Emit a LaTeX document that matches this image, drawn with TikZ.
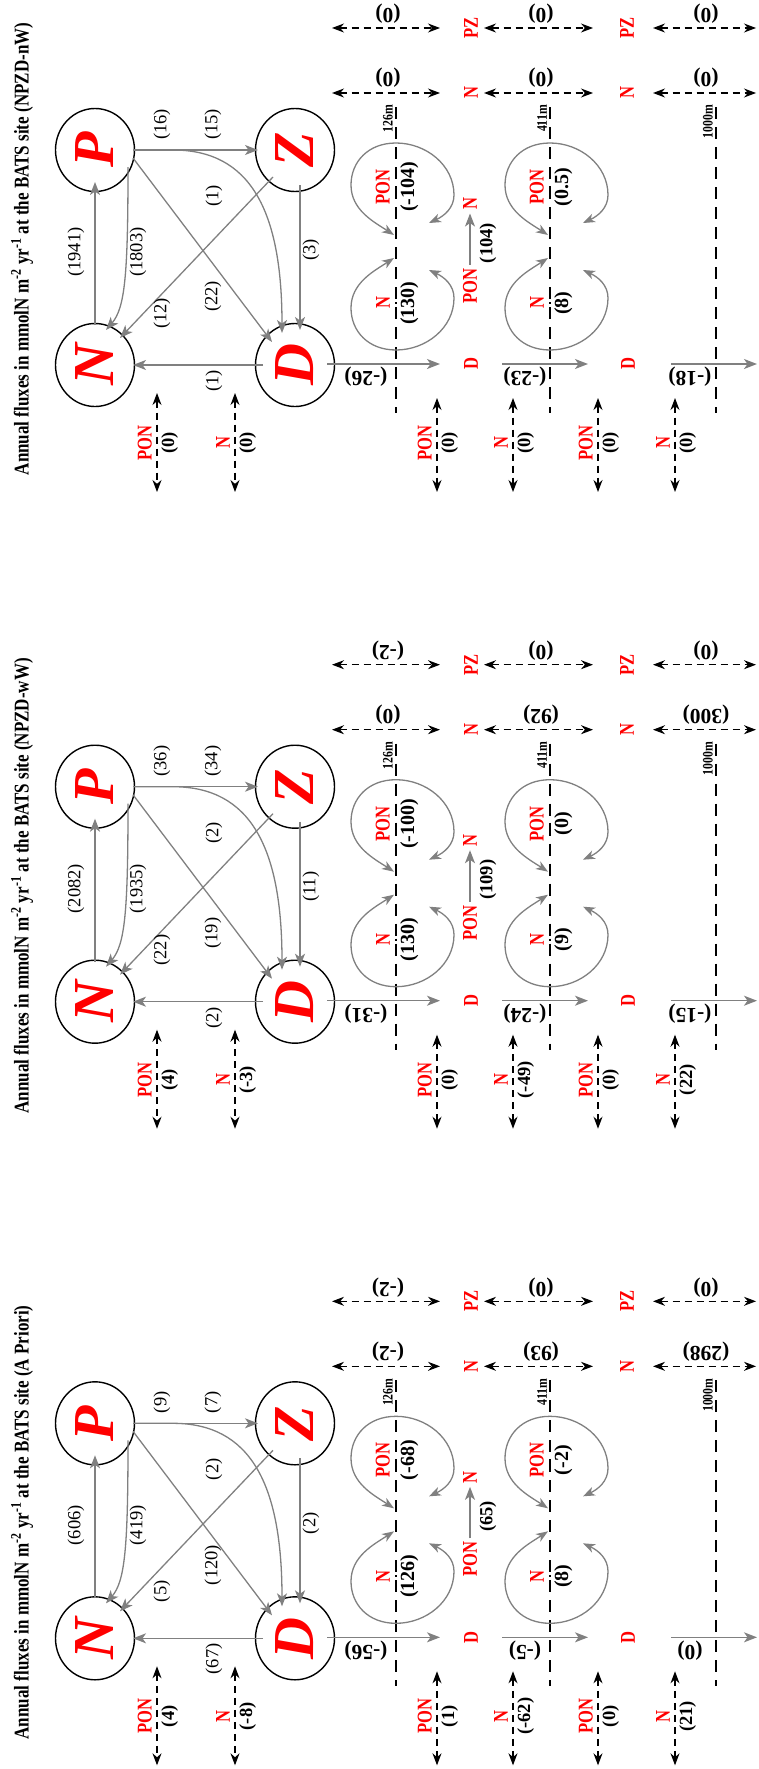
\documentclass[tikz,border=0pt]{standalone}
\usepackage{fontspec}
\setmainfont{Liberation Serif}
\newfontfamily\titlefont[FakeStretch=0.81]{Liberation Serif}
\newfontfamily\condfont[FakeStretch=0.79]{Liberation Serif}
\usetikzlibrary{arrows.meta,shapes.geometric,calc}
\tikzset{
  circ/.style={ellipse,draw,line width=1.4pt,minimum width=83pt,minimum height=79pt,inner sep=0pt,rotate=90,text=red,font=\fontsize{58}{60}\selectfont\bfseries\itshape},
  garrow/.style={draw=gray,line width=1.3pt,-{Stealth[length=13pt,width=10pt,inset=3.5pt]}},
  gdarrow/.style={draw=gray,line width=1.3pt,{Stealth[length=12pt,width=9pt,inset=3.5pt]}-{Stealth[length=12pt,width=9pt,inset=3.5pt]}},
  bdarrow/.style={black,line width=1.2pt,dash pattern=on 7pt off 5pt,{Stealth[length=12pt,width=9pt]}-{Stealth[length=12pt,width=9pt]}},
  depthline/.style={line width=1.4pt,dash pattern=on 12pt off 8pt},
  flab/.style={rotate=90,inner sep=0pt,font=\fontsize{18.5}{20}\selectfont},
  vlab/.style={rotate=180,inner sep=0pt,font=\fontsize{21.5}{24}\selectfont\bfseries},
  rlab/.style={rotate=90,inner sep=0pt,text=red,font=\condfont\fontsize{21}{24}\selectfont\bfseries},
  rclab/.style={rotate=90,text=red,font=\condfont\fontsize{21}{24}\selectfont\bfseries},
  rblab/.style={rotate=90,text=red,font=\condfont\fontsize{21}{24}\selectfont\bfseries},
  blab/.style={rotate=90,inner sep=0pt,font=\fontsize{20}{22}\selectfont\bfseries},
  bblab/.style={rotate=90,inner sep=0pt,font=\fontsize{18.5}{20}\selectfont\bfseries},
  dlab/.style={rotate=90,inner sep=0pt,anchor=south east,font=\titlefont\fontsize{14.5}{16}\selectfont\bfseries},
  ttl/.style={rotate=90,anchor=base,inner sep=0pt,font=\titlefont\fontsize{21}{24}\selectfont\bfseries},
  barline/.style={line width=1.3pt},
}
\newdimen\frdim
% fraction-like label on a depth line: x, y, red text, black value
\newcommand\frl[4]{%
  \setbox0=\hbox{\condfont\fontsize{21}{24}\selectfont\bfseries #3}%
  \setbox2=\hbox{\fontsize{20}{22}\selectfont\bfseries #4}%
  \frdim=\wd0 \ifdim\wd2>\frdim \frdim=\wd2 \fi
  \pgfmathsetmacro\hb{\frdim/2+1}%
  \node[rlab,anchor=south] at (#1-6,#2) {#3};
  \node[blab,anchor=north] at (#1+4,#2) {#4};
  \draw[barline] (#1,#2-\hb) -- (#1,#2+\hb);}
% bottom exchange arrow with labels: x, O, top, red, value
\newcommand\bex[5]{%
  \draw[bdarrow] (#1,#2+#3) -- (#1,#2+342);
  \node[rlab,anchor=south] at (#1-5,#2+293) {#4};
  \node[bblab,anchor=north] at (#1+4,#2+293) {#5};}
% recycling arcs around a depth line: L, O
\newcommand\arcs[2]{%
 \draw[gdarrow] (#1+33,#2+73) .. controls (#1+48,#2+66) and (#1+58,#2+58) .. (#1+58,#2+45) .. controls (#1+58,#2+15) and (#1+30,#2-7) .. (#1,#2-7) .. controls (#1-28,#2-7) and (#1-45,#2+12) .. (#1-45,#2+35) .. controls (#1-45,#2+60) and (#1-22,#2+72) .. (#1-2,#2+85);
 \draw[gdarrow] (#1+33,#2+120) .. controls (#1+48,#2+127) and (#1+58,#2+135) .. (#1+58,#2+148) .. controls (#1+58,#2+178) and (#1+30,#2+200) .. (#1,#2+200) .. controls (#1-28,#2+200) and (#1-45,#2+181) .. (#1-45,#2+158) .. controls (#1-45,#2+133) and (#1-22,#2+121) .. (#1-2,#2+108);}
\newcommand\panel[2]{%
 \def\O{#1}%
 \node[ttl] (T#2) at (28.5,\O+99) {Annual fluxes in mmolN m\textsuperscript{-2} yr\textsuperscript{-1} at the BATS site (\Tname)};
 \node[circ] (P#2) at (95,\O) {P};
 \node[circ] (N#2) at (95,\O+215) {N};
 \node[circ] (Z#2) at (295,\O) {Z};
 \node[circ] (D#2) at (295,\O+215) {D};
 \draw[garrow] ($(N#2)+(0,-40)$) -- ($(P#2)+(0,32)$);
 \draw[garrow] ($(P#2)+(33,17)$) .. controls ($(P#2)+(33,125)$) and ($(P#2)+(30,158)$) .. ($(N#2)+(11,-35)$);
 \draw[garrow] ($(P#2)+(38,0)$) -- ($(Z#2)+(-37,0)$);
 \draw[garrow] ($(P#2)+(38,0)$) -- ($(P#2)+(78,0)$) .. controls ($(P#2)+(155,0)$) and ($(D#2)+(-13,-155)$) .. ($(D#2)+(-13,-32)$);
 \draw[garrow] ($(P#2)+(38,8)$) -- ($(D#2)+(-23,-23)$);
 \draw[garrow] ($(Z#2)+(-22,27)$) -- ($(N#2)+(25,-27)$);
 \draw[garrow] ($(Z#2)+(5,35)$) -- ($(D#2)+(5,-35)$);
 \draw[garrow] ($(D#2)+(-32,0)$) -- ($(N#2)+(38,0)$);
 \node[flab] at (76,\O+102) {\lNP};
 \node[flab] at (138,\O+102) {\lPN};
 \node[flab,anchor=west] at (162,\O-10) {\lPZa};
 \node[flab,anchor=west] at (213,\O-10) {\lPZb};
 \node[flab] at (214,\O+46) {\lPDc};
 \node[flab,anchor=west] at (213,\O+162) {\lPD};
 \node[flab,anchor=west] at (162,\O+179) {\lZN};
 \node[flab] at (311,\O+100) {\lZD};
 \node[flab,anchor=east] at (214,\O+220) {\lDN};
 % depth lines
 \draw[depthline] (396,\O-43) -- (396,\O+263);
 \draw[depthline] (550,\O-43) -- (550,\O+263);
 \draw[depthline] (716,\O-43) -- (716,\O+263);
 \node[dlab] at (393,\O-45) {126m};
 \node[dlab] at (547,\O-45) {411m};
 \node[dlab] at (713,\O-45) {1000m};
 % lateral exchanges
 \draw[bdarrow] (332,\O-57) -- (440,\O-57);
 \draw[bdarrow] (484,\O-57) -- (593,\O-57);
 \draw[bdarrow] (653,\O-57) -- (756,\O-57);
 \draw[bdarrow] (332,\O-122) -- (440,\O-122);
 \draw[bdarrow] (484,\O-122) -- (593,\O-122);
 \draw[bdarrow] (653,\O-122) -- (756,\O-122);
 \node[rblab] at (471,\O-57) {N};
 \node[rblab] at (627,\O-57) {N};
 \node[rblab] at (471,\O-122) {PZ};
 \node[rblab] at (627,\O-122) {PZ};
 \node[vlab] at (388,\O-72) {\nA};
 \node[vlab] at (541,\O-72) {\nB};
 \node[vlab] at (706,\O-72) {\nC};
 \node[vlab] at (388,\O-136) {\zA};
 \node[vlab] at (541,\O-136) {\zB};
 \node[vlab] at (706,\O-136) {\zC};
 % sinking
 \node[rblab] (DA#2) at (471,\O+214) {D};
 \node[rblab] (DB#2) at (628,\O+214) {D};
 \draw[garrow] ($(D#2)+(32,-1)$) -- (440,\O+214);
 \draw[garrow] (502,\O+214) -- (588,\O+214);
 \draw[garrow] (671,\O+214) -- (757,\O+214);
 \node[vlab] at (366,\O+227) {\sA};
 \node[vlab] at (525,\O+227) {\sB};
 \node[vlab] at (690,\O+227) {\sC};
 % layers
 \arcs{396}{\O}
 \arcs{550}{\O}
 \frl{396}{\O+37}{PON}{\uPa}
 \frl{396}{\O+153}{N}{\uNa}
 \frl{550}{\O+37}{PON}{\uPb}
 \frl{550}{\O+153}{N}{\uNb}
 \node[rclab] (PO#2) at (470,\O+136) {PON};
 \node[rclab] (NO#2) at (470,\O+54) {N};
 \draw[garrow] (PO#2.east) -- (NO#2.west);
 \node[bblab] at (488,\O+93) {\lPONN};
 % bottom exchanges
 \bex{157}{\O}{243}{PON}{\bA}
 \bex{235}{\O}{243}{N}{\bB}
 \bex{437}{\O}{248}{PON}{\bC}
 \bex{513}{\O}{248}{N}{\bD}
 \bex{598}{\O}{248}{PON}{\bE}
 \bex{675}{\O}{248}{N}{\bF}
}
\begin{document}
\begin{tikzpicture}[x=1pt,y=-1pt]
\useasboundingbox (0,0) rectangle (758,1769);
% ---- NPZD-nW
\def\Tname{NPZD-nW}
\def\lNP{(1941)}\def\lPN{(1803)}\def\lPZa{(16)}\def\lPZb{(15)}\def\lPDc{(1)}
\def\lPD{(22)}\def\lZN{(12)}\def\lZD{(3)}\def\lDN{(1)}
\def\sA{(-26)}\def\sB{(-23)}\def\sC{(-18)}
\def\nA{(0)}\def\nB{(0)}\def\nC{(0)}
\def\zA{(0)}\def\zB{(0)}\def\zC{(0)}
\def\uPa{(-104)}\def\uNa{(130)}\def\uPb{(0.5)}\def\uNb{(8)}
\def\lPONN{(104)}
\def\bA{(0)}\def\bB{(0)}\def\bC{(0)}\def\bD{(0)}\def\bE{(0)}\def\bF{(0)}
\panel{150}{c}
% ---- NPZD-wW
\def\Tname{NPZD-wW}
\def\lNP{(2082)}\def\lPN{(1935)}\def\lPZa{(36)}\def\lPZb{(34)}\def\lPDc{(2)}
\def\lPD{(19)}\def\lZN{(22)}\def\lZD{(11)}\def\lDN{(2)}
\def\sA{(-31)}\def\sB{(-24)}\def\sC{(-15)}
\def\nA{(0)}\def\nB{(92)}\def\nC{(300)}
\def\zA{(-2)}\def\zB{(0)}\def\zC{(0)}
\def\uPa{(-100)}\def\uNa{(130)}\def\uPb{(0)}\def\uNb{(9)}
\def\lPONN{(109)}
\def\bA{(4)}\def\bB{(-3)}\def\bC{(0)}\def\bD{(-49)}\def\bE{(0)}\def\bF{(22)}
\panel{786.7}{b}
% ---- A Priori
\def\Tname{A Priori}
\def\lNP{(606)}\def\lPN{(419)}\def\lPZa{(9)}\def\lPZb{(7)}\def\lPDc{(2)}
\def\lPD{(120)}\def\lZN{(5)}\def\lZD{(2)}\def\lDN{(67)}
\def\sA{(-56)}\def\sB{(-5)}\def\sC{(0)}
\def\nA{(-2)}\def\nB{(93)}\def\nC{(298)}
\def\zA{(-2)}\def\zB{(0)}\def\zC{(0)}
\def\uPa{(-68)}\def\uNa{(126)}\def\uPb{(-2)}\def\uNb{(8)}
\def\lPONN{(65)}
\def\bA{(4)}\def\bB{(-8)}\def\bC{(1)}\def\bD{(-62)}\def\bE{(0)}\def\bF{(21)}
\panel{1423.3}{a}
\end{tikzpicture}
\end{document}
